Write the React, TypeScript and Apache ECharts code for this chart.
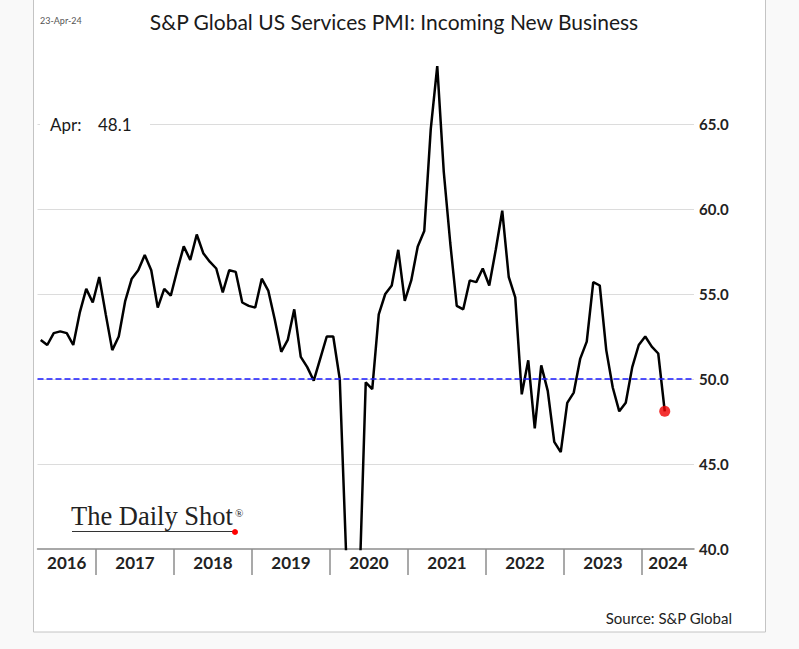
import React, { useEffect, useRef } from "react";
import * as echarts from "echarts";

// ---- data ----
const TITLE = "S&P Global US Services PMI: Incoming New Business";
const DATE_STAMP = "23-Apr-24";
const SOURCE = "Source: S&P Global";
const FIRST_YEAR = 2016;
const FIRST_MONTH = 4; // April 2016
const AXIS_LAST_YEAR = 2024;
const AXIS_LAST_MONTH = 8; // axis runs to Aug 2024
const MONTH_NAMES = ["Jan", "Feb", "Mar", "Apr", "May", "Jun", "Jul", "Aug", "Sep", "Oct", "Nov", "Dec"];

const v2016 = [52.3, 52.0, 52.7, 52.8, 52.7, 52.0, 53.9, 55.3, 54.5];
const v2017 = [56.0, 53.8, 51.7, 52.5, 54.6, 55.9, 56.4, 57.3, 56.4, 54.2, 55.3, 54.9];
const v2018 = [56.4, 57.8, 57.0, 58.5, 57.4, 56.9, 56.5, 55.1, 56.4, 56.3, 54.5, 54.3];
const v2019 = [54.2, 55.9, 55.2, 53.5, 51.6, 52.3, 54.1, 51.3, 50.7, 49.9, 51.2, 52.5];
const v2020 = [52.5, 50.0, 39.5, 25.0, 37.5, 49.8, 49.4, 53.8, 55.0, 55.5, 57.6, 54.6];
const v2021 = [55.8, 57.8, 58.7, 64.7, 68.4, 62.2, 58.0, 54.3, 54.1, 55.8, 55.7, 56.5];
const v2022 = [55.5, 57.6, 59.9, 56.0, 54.8, 49.1, 51.1, 47.1, 50.8, 49.3, 46.3, 45.7];
const v2023 = [48.6, 49.2, 51.2, 52.2, 55.7, 55.5, 51.7, 49.5, 48.1, 48.6, 50.7, 52.0];
const v2024 = [52.5, 51.9, 51.5, 48.1];

const values = [...v2016, ...v2017, ...v2018, ...v2019, ...v2020, ...v2021, ...v2022, ...v2023, ...v2024];

const Y_MIN = 40;
const Y_MAX = 70;
const Y_STEP = 5;
const REF_LEVEL = 50;

// categories: one per month of the axis
const categories: string[] = [];
{
  let y = FIRST_YEAR;
  let m = FIRST_MONTH;
  while (y < AXIS_LAST_YEAR || (y === AXIS_LAST_YEAR && m <= AXIS_LAST_MONTH)) {
    categories.push(`${y}-${String(m).padStart(2, "0")}`);
    m++;
    if (m > 12) { m = 1; y++; }
  }
}

// label index per year: centre of that year's span
const yearSpan: Record<string, [number, number]> = {};
categories.forEach((c, i) => {
  const yr = c.slice(0, 4);
  if (!yearSpan[yr]) yearSpan[yr] = [i, i];
  else yearSpan[yr][1] = i;
});
const labelIndex: Record<number, { year: string; half: boolean }> = {};
Object.keys(yearSpan).forEach((yr) => {
  const [f, l] = yearSpan[yr];
  const sum = f + l;
  labelIndex[Math.floor(sum / 2)] = { year: yr, half: sum % 2 === 1 };
});

const FONT = "Lato, 'Open Sans', sans-serif";

export default function App() {
  const ref = useRef<HTMLDivElement>(null);

  useEffect(() => {
    if (!ref.current) return;
    const chart = echarts.init(ref.current, undefined, { renderer: "svg" });
    const lastIdx = values.length - 1;
    const lastVal = values[lastIdx];
    const lastMonth = MONTH_NAMES[Number(categories[lastIdx].slice(5)) - 1];
    const BAND = 6.5;

    chart.setOption({
      animation: false,
      backgroundColor: "#f9f9f9",
      textStyle: { fontFamily: FONT },
      grid: [
        { left: 37.5, right: 105, top: 39, bottom: 100 },
        { left: 37.5, right: 105, top: 549, height: 26 },
      ],
      xAxis: [
        {
          gridIndex: 0,
          type: "category",
          data: categories,
          boundaryGap: true,
          axisLine: { show: true, lineStyle: { color: "#8c8c8c", width: 1.5 } },
          axisTick: { show: false },
          axisLabel: { show: false },
          splitLine: { show: false },
        },
        {
          gridIndex: 1,
          type: "category",
          data: categories,
          boundaryGap: true,
          position: "top",
          axisLine: { show: false },
          axisTick: { show: false },
          axisLabel: {
            show: true,
            inside: true,
            margin: 5,
            interval: (index: number) => labelIndex[index] !== undefined,
            formatter: (_v: string, index: number) => {
              const info = labelIndex[index];
              if (!info) return "";
              return info.half ? `{p|${info.year}}` : `{c|${info.year}}`;
            },
            rich: {
              c: { fontFamily: FONT, fontSize: 17, fontWeight: "bold", color: "#222" },
              p: { fontFamily: FONT, fontSize: 17, fontWeight: "bold", color: "#222", padding: [0, 0, 0, BAND] },
            },
          },
          splitLine: {
            show: true,
            interval: (index: number) => categories[index].endsWith("-01"),
            lineStyle: { color: "#8c8c8c", width: 1.5 },
            showMaxLine: false,
          },
        },
      ],
      yAxis: [
        {
          gridIndex: 0,
          type: "value",
          position: "right",
          min: Y_MIN,
          max: Y_MAX,
          interval: Y_STEP,
          axisLine: { show: false },
          axisTick: { show: false },
          axisLabel: {
            margin: 5,
            fontFamily: FONT,
            fontSize: 15,
            fontWeight: "bold",
            color: "#222",
            showMaxLabel: false,
            formatter: (v: number) => v.toFixed(1),
          },
          splitLine: {
            show: true,
            lineStyle: { color: "#dcdcdc", width: 1 },
            showMinLine: false,
            showMaxLine: false,
          },
        },
        { gridIndex: 1, type: "value", show: false },
      ],
      series: [
        {
          type: "line",
          xAxisIndex: 0,
          yAxisIndex: 0,
          data: values,
          symbol: "none",
          clip: true,
          lineStyle: { color: "#000", width: 2.5 },
          markLine: {
            silent: true,
            symbol: ["none", "none"],
            label: { show: false },
            lineStyle: { color: "#1a1aff", type: [6, 3], width: 1.5 },
            data: [{ yAxis: REF_LEVEL }],
          },
          z: 3,
        },
        {
          type: "scatter",
          xAxisIndex: 0,
          yAxisIndex: 0,
          data: [[lastIdx, lastVal]],
          symbolSize: 11,
          itemStyle: { color: "#f00000" },
          z: 4,
        },
      ],
      graphic: [
        {
          type: "rect",
          z: -1,
          silent: true,
          shape: { x: 33.5, y: -2, width: 732, height: 634 },
          style: { fill: "#ffffff", stroke: "#c4c4c4", lineWidth: 1 },
        },
        {
          type: "rect",
          z: 10,
          silent: true,
          shape: { x: 40, y: 114, width: 110, height: 20 },
          style: { fill: "#ffffff" },
        },
        {
          type: "text",
          x: 40,
          y: 20,
          style: { text: DATE_STAMP, fontFamily: FONT, fontSize: 9, fill: "#555", verticalAlign: "middle" },
        },
        {
          type: "text",
          x: 394,
          y: 21,
          style: { text: TITLE, fontFamily: FONT, fontSize: 21, fill: "#1a1a1a", align: "center", verticalAlign: "middle" },
        },
        {
          type: "text",
          z: 11,
          x: 50,
          y: 124,
          style: { text: `${lastMonth}:`, fontFamily: FONT, fontSize: 17, fill: "#1a1a1a", verticalAlign: "middle" },
        },
        {
          type: "text",
          z: 11,
          x: 98,
          y: 124,
          style: { text: lastVal.toFixed(1), fontFamily: FONT, fontSize: 17, fill: "#1a1a1a", verticalAlign: "middle" },
        },
        {
          type: "text",
          x: 71,
          y: 529,
          style: { text: "The Daily Shot", fontFamily: "'Liberation Serif', 'DejaVu Serif', serif", fontSize: 26.5, fill: "#222", verticalAlign: "bottom" },
        },
        {
          type: "text",
          x: 235,
          y: 513,
          style: { text: "®", fontFamily: "'Liberation Serif', serif", fontSize: 11, fill: "#222", verticalAlign: "middle" },
        },
        {
          type: "line",
          shape: { x1: 72, y1: 531.5, x2: 234, y2: 531.5 },
          style: { stroke: "#333", lineWidth: 1.2 },
        },
        {
          type: "circle",
          shape: { cx: 235, cy: 532, r: 3 },
          style: { fill: "#ff0000" },
        },
        {
          type: "text",
          x: 732,
          y: 618,
          style: { text: SOURCE, fontFamily: FONT, fontSize: 15, fill: "#222", align: "right", verticalAlign: "middle" },
        },
      ],
    });

    return () => chart.dispose();
  }, []);

  return (
    <div
      ref={ref}
      style={{ position: "fixed", left: 0, top: 0, width: 799, height: 649 }}
    />
  );
}
